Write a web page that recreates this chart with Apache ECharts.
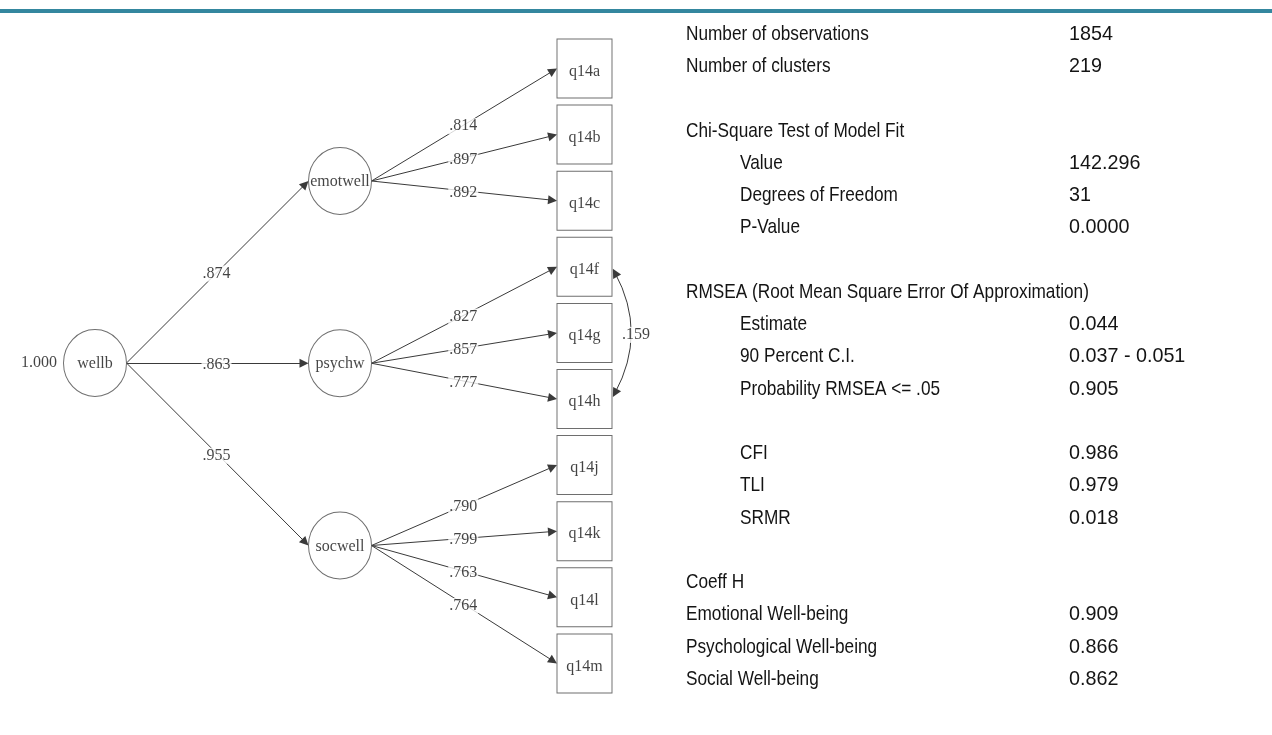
<!DOCTYPE html>
<html><head><meta charset="utf-8">
<script src="https://cdn.jsdelivr.net/npm/echarts@6/dist/echarts.min.js"></script>
<style>html,body{margin:0;padding:0;background:#fff}#c{width:1272px;height:735px}</style>
</head><body><div id="c"></div>
<script>
// ---------------- data ----------------
const generalFactor = 'wellb';
const generalVariance = '1.000';
const factors = ['emotwell', 'psychw', 'socwell'];
const factorLoadings = ['.874', '.863', '.955'];
const indicators = [['q14a', 'q14b', 'q14c'], ['q14f', 'q14g', 'q14h'], ['q14j', 'q14k', 'q14l', 'q14m']];
const indicatorLoadings = [['.814', '.897', '.892'], ['.827', '.857', '.777'], ['.790', '.799', '.763', '.764']];
const covFrom = 'q14f';
const covTo = 'q14h';
const covValue = '.159';

const statLabels = ['Number of observations', 'Number of clusters', '', 'Chi-Square Test of Model Fit', 'Value', 'Degrees of Freedom', 'P-Value', '', 'RMSEA (Root Mean Square Error Of Approximation)', 'Estimate', '90 Percent C.I.', 'Probability RMSEA <= .05', '', 'CFI', 'TLI', 'SRMR', '', 'Coeff H', 'Emotional Well-being', 'Psychological Well-being', 'Social Well-being'];
const statValues = ['1854', '219', '', '', '142.296', '31', '0.0000', '', '', '0.044', '0.037 - 0.051', '0.905', '', '0.986', '0.979', '0.018', '', '', '0.909', '0.866', '0.862'];
const statIndent = [0, 0, 0, 0, 1, 1, 1, 0, 0, 1, 1, 1, 0, 1, 1, 1, 0, 0, 0, 0, 0];

// ---------------- layout ----------------
const W = 1272, H = 735;
const L = {
  genX: 95, genY: 363, facX: 340, facY0: 181, facGap: 182.25,
  boxX: 584.5, boxY0: 68.5, boxGap: 66.1,
  cW: 63, cH: 67, bW: 55, bH: 59, arrow: 9,
  statY0: 34, statGap: 32.25, labX: 686, indX: 740, valX: 1069
};
const SERIF = '"Liberation Serif", "Times New Roman", serif';
const SANS = '"Liberation Sans", Arial, sans-serif';
const NARROW = 0.82, NARROW_VAL = 0.94;
const EDGE = '#3a3a3a';
const INK = '#141414';

const facPos = factors.map((f, k) => [L.facX, L.facY0 + k * L.facGap]);
const boxPos = {};
const boxList = [];
let gi = 0;
indicators.forEach((grp, k) => grp.forEach((name) => {
  const p = [L.boxX, L.boxY0 + gi * L.boxGap];
  boxPos[name] = p; boxList.push({ name, value: p }); gi++;
}));

const edges = [];
factors.forEach((f, k) => {
  edges.push({ s: [L.genX + L.cW / 2, L.genY], e: [facPos[k][0] - L.cW / 2, facPos[k][1]], v: factorLoadings[k] });
  indicators[k].forEach((q, j) => {
    edges.push({ s: [facPos[k][0] + L.cW / 2, facPos[k][1]], e: [boxPos[q][0] - L.bW / 2, boxPos[q][1]], v: indicatorLoadings[k][j] });
  });
});
function shorten(s, e, d) {
  const dx = e[0] - s[0], dy = e[1] - s[1], len = Math.hypot(dx, dy);
  return [e[0] - dx / len * d, e[1] - dy / len * d];
}
const lineData = edges.map(ed => ({ coords: [ed.s, shorten(ed.s, ed.e, L.arrow / 2)] }));
const labelData = edges.map(ed => ({ value: [(ed.s[0] + ed.e[0]) / 2 - 1, (ed.s[1] + ed.e[1]) / 2 + 1.5], name: ed.v }));

const cf = boxPos[covFrom], ct = boxPos[covTo];
const covData = [{ coords: [[cf[0] + L.bW / 2 + 3, cf[1] + 6], [ct[0] + L.bW / 2 + 3, ct[1] - 6]] }];
labelData.push({ value: [cf[0] + L.bW / 2 + 24, (cf[1] + ct[1]) / 2 + 2], name: covValue });

// ---------------- stats text ----------------
const graphics = [{ type: 'rect', shape: { x: 0, y: 9, width: W, height: 4 }, style: { fill: '#34879F' }, silent: true }];
statLabels.forEach((t, i) => {
  const y = L.statY0 + i * L.statGap;
  if (t) graphics.push({ type: 'text', x: statIndent[i] ? L.indX : L.labX, y, scaleX: NARROW, style: { text: t, fill: INK, font: '21px ' + SANS, verticalAlign: 'middle', align: 'left' }, silent: true });
  if (statValues[i]) graphics.push({ type: 'text', x: L.valX, y, scaleX: NARROW_VAL, style: { text: statValues[i], fill: INK, font: '21px ' + SANS, verticalAlign: 'middle', align: 'left' }, silent: true });
});

const chart = echarts.init(document.getElementById('c'), null, { renderer: 'canvas' });
chart.setOption({
  animation: false,
  backgroundColor: '#fff',
  grid: { left: 0, right: 0, top: 0, bottom: 0 },
  xAxis: { type: 'value', min: 0, max: W, show: false },
  yAxis: { type: 'value', min: 0, max: H, inverse: true, show: false },
  graphic: graphics,
  series: [
    {
      type: 'lines', coordinateSystem: 'cartesian2d', silent: true, z: 2,
      symbol: ['none', 'triangle'], symbolSize: [0, L.arrow],
      lineStyle: { color: EDGE, width: 1, opacity: 1, curveness: 0 },
      data: lineData
    },
    {
      type: 'lines', coordinateSystem: 'cartesian2d', silent: true, z: 2,
      symbol: ['triangle', 'triangle'], symbolSize: [L.arrow, L.arrow],
      lineStyle: { color: EDGE, width: 1, opacity: 1, curveness: 0.27 },
      data: covData
    },
    {
      type: 'scatter', silent: true, z: 3, symbol: 'circle', symbolSize: [L.cW, L.cH],
      itemStyle: { color: '#fff', borderColor: '#4a4a4a', borderWidth: 1 },
      label: { show: true, position: 'inside', offset: [0, 1], formatter: '{b}', fontFamily: SERIF, fontSize: 16, color: INK },
      data: [{ name: generalFactor, value: [L.genX, L.genY] }].concat(factors.map((f, k) => ({ name: f, value: facPos[k] })))
    },
    {
      type: 'scatter', silent: true, z: 3, symbol: 'rect', symbolSize: [L.bW, L.bH],
      itemStyle: { color: '#fff', borderColor: '#4a4a4a', borderWidth: 1 },
      label: { show: true, position: 'inside', offset: [0, 3], formatter: '{b}', fontFamily: SERIF, fontSize: 16, color: INK },
      data: boxList
    },
    {
      type: 'scatter', silent: true, z: 4, symbolSize: 1,
      itemStyle: { color: 'rgba(0,0,0,0)' },
      label: { show: true, position: 'inside', formatter: '{b}', fontFamily: SERIF, fontSize: 16, color: INK, backgroundColor: '#fff', padding: [0, 1] },
      data: labelData
    },
    {
      type: 'scatter', silent: true, z: 4, symbolSize: 1,
      itemStyle: { color: 'rgba(0,0,0,0)' },
      label: { show: true, position: 'left', distance: 6, formatter: '{b}', fontFamily: SERIF, fontSize: 16, color: INK },
      data: [{ name: generalVariance, value: [L.genX - L.cW / 2, L.genY] }]
    }
  ]
});
</script></body></html>
